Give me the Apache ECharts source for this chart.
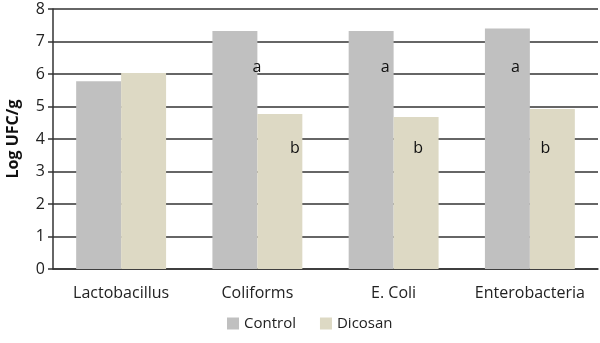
<!DOCTYPE html>
<html><head><meta charset="utf-8">
<script src="https://cdn.jsdelivr.net/npm/echarts@6/dist/echarts.min.js"></script>
<style>html,body{margin:0;padding:0;background:#fff}#c{width:600px;height:343px}</style>
</head><body><div id="c"></div>
<script>
const categories = ['Lactobacillus', 'Coliforms', 'E. Coli', 'Enterobacteria'];
const controlValues = [5.78, 7.32, 7.32, 7.4];
const dicosanValues = [6.03, 4.77, 4.68, 4.92];
const yTicks = [0, 1, 2, 3, 4, 5, 6, 7, 8];
// significance letters: [category, letter, value position]
const controlLetters = [['Coliforms', 'a', 6.2], ['E. Coli', 'a', 6.2], ['Enterobacteria', 'a', 6.2]];
const dicosanLetters = [['Coliforms', 'b', 3.7], ['E. Coli', 'b', 3.7], ['Enterobacteria', 'b', 3.7]];
const controlLetterShift = [22, 14, 8];
const dicosanLetterShift = [15, 2, -7];

const font = 'Open Sans';
const chart = echarts.init(document.getElementById('c'));
function letterPoints(list, shifts) {
  return list.map((d, i) => ({
    coord: [d[0], d[2]], value: d[1],
    symbolSize: 0,
    label: { show: true, formatter: d[1], offset: [shifts[i], 0], color: '#111', fontSize: 16, fontFamily: font, position: 'inside' }
  }));
}
chart.setOption({
  animation: false,
  textStyle: { fontFamily: font },
  grid: { left: 53, right: 2, top: 9, bottom: 74, outerBoundsMode: 'none', containLabel: false },
  legend: {
    bottom: 7, left: 222, itemWidth: 12, itemHeight: 12, itemGap: 24,
    icon: 'rect',
    textStyle: { fontSize: 15, color: '#222', fontFamily: font },
    data: ['Control', 'Dicosan']
  },
  xAxis: {
    type: 'category', data: categories,
    axisLine: { lineStyle: { color: '#333', width: 1.5 } },
    axisTick: { show: false },
    axisLabel: { interval: 0, hideOverlap: false, fontSize: 16, color: '#222', margin: 16, fontFamily: font }
  },
  yAxis: {
    type: 'value', min: yTicks[0], max: yTicks[yTicks.length - 1], interval: 1,
    name: 'Log UFC/g', nameLocation: 'middle', nameGap: 32, nameRotate: 90,
    nameTextStyle: { fontSize: 16, fontWeight: 'bold', color: '#111', fontFamily: font },
    axisLine: { show: true, lineStyle: { color: '#333', width: 1.5 } },
    axisTick: { show: true, length: 5, lineStyle: { color: '#333', width: 1.5 } },
    axisLabel: { fontSize: 16, color: '#222', margin: 8, fontFamily: font },
    splitLine: { lineStyle: { color: '#333', width: 1.5 } }
  },
  series: [
    { name: 'Control', type: 'bar', data: controlValues, barGap: '0%', barCategoryGap: '34%',
      itemStyle: { color: '#c0c0c0' },
      markPoint: { symbol: 'circle', data: letterPoints(controlLetters, controlLetterShift) } },
    { name: 'Dicosan', type: 'bar', data: dicosanValues,
      itemStyle: { color: '#ddd9c4' },
      markPoint: { symbol: 'circle', data: letterPoints(dicosanLetters, dicosanLetterShift) } }
  ]
});
</script></body></html>
